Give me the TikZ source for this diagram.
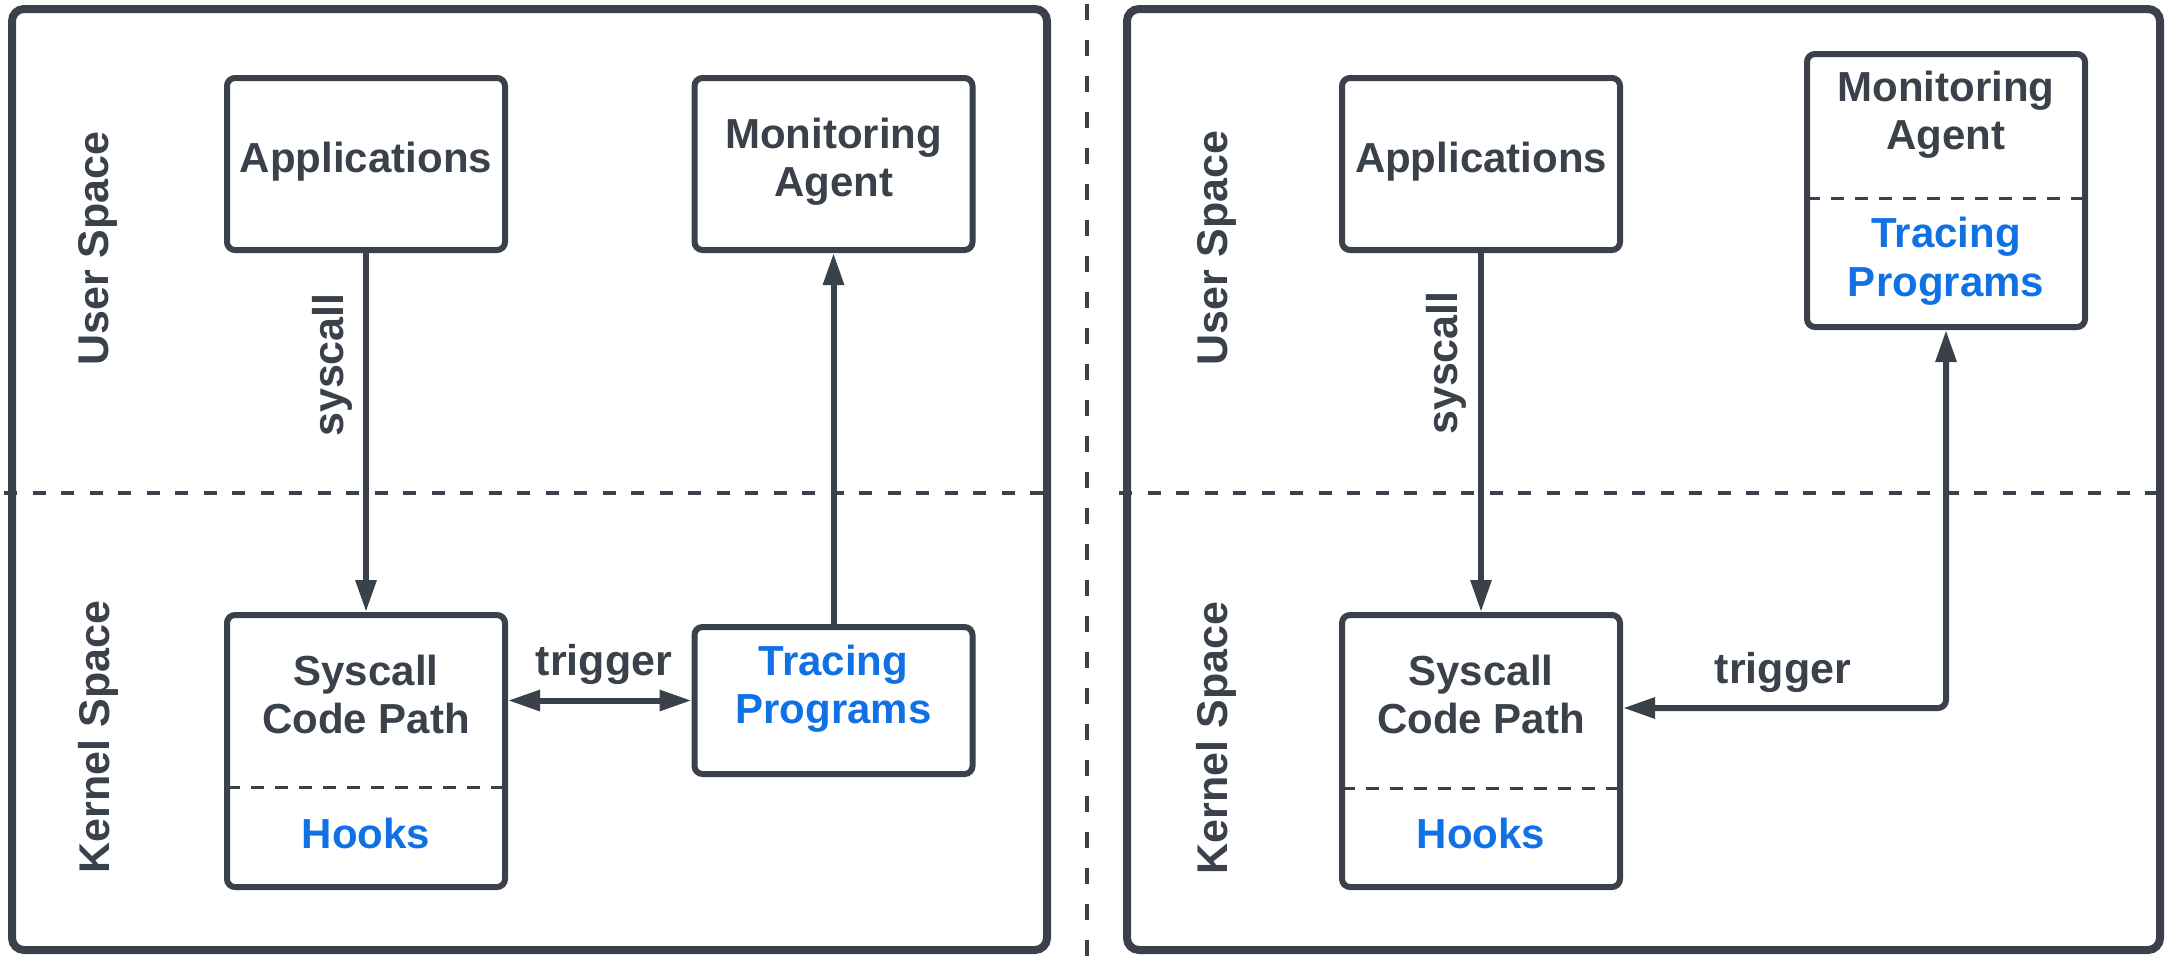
\documentclass[tikz,border=0pt]{standalone}
\usepackage{fontspec}
\setmainfont{Liberation Sans}
\usetikzlibrary{arrows.meta}
\definecolor{dk}{HTML}{3A414A}
\definecolor{bl}{HTML}{1071E5}
\tikzset{
  outerbox/.style={draw=dk, line width=8pt, rounded corners=12pt, inner sep=0pt},
  ibox/.style={draw=dk, line width=6pt, rounded corners=8pt, inner sep=0pt, minimum width=278pt},
  txt/.style={font=\fontsize{42}{48}\selectfont\bfseries, text=dk, inner sep=0pt, anchor=base},
  btxt/.style={txt, text=bl},
  lab/.style={font=\fontsize{43}{48}\selectfont\bfseries, text=dk, inner sep=0pt, anchor=base},
  rlab/.style={lab, rotate=90},
  sepline/.style={draw=dk, line width=3pt, dash pattern=on 13pt off 11pt},
  midline/.style={draw=dk, line width=3.5pt, dash pattern=on 13pt off 15.5pt},
  vline/.style={draw=dk, line width=4pt, dash pattern=on 16pt off 20pt},
  conn/.style={draw=dk, line width=6pt},
  tip/.style={-{Triangle[length=32pt,width=20pt]}},
  tips/.style={{Triangle[length=32pt,width=20pt]}-{Triangle[length=32pt,width=20pt]}}
}
\begin{document}
\begin{tikzpicture}[x=1pt,y=-1pt]
\useasboundingbox (0,0) rectangle (2165,956);
% outer panels
\node[outerbox, minimum width=1035pt, minimum height=941pt] (louter) at (529.5,479.5) {};
\node[outerbox, minimum width=1033pt, minimum height=941pt] (router) at (1643.5,479.5) {};
% middle vertical dashed line
\coordinate (vtop) at (1087,4);
\coordinate (vbot) at (1087,956);
\draw[vline] (vtop) -- (vbot);
% horizontal dashed lines
\draw[midline] ([xshift=-4pt]louter.west |- 0,493) -- ([xshift=4pt]louter.east |- 0,493);
\draw[midline] ([xshift=-4pt]router.west |- 0,493) -- ([xshift=4pt]router.east |- 0,493);

% ---------- left panel ----------
\node[rlab] (lus) at (108,248.5) {User Space};
\node[rlab] (lks) at (109,737) {Kernel Space};
\node[ibox, minimum height=172pt] (lapp) at (366,164) {};
\node[ibox, minimum height=172pt] (lmon) at (833.5,164) {};
\node[ibox, minimum height=272pt] (lsys) at (366,751) {};
\node[ibox, minimum height=147pt] (ltp) at (833.5,700.5) {};
\node[txt] (lappt) at (366,172) {Applications};
\node[txt] (lmon1) at (833.5,148) {Monitoring};
\node[txt] (lmon2) at (833.5,196) {Agent};
\node[txt] (lsys1) at (366,685) {Syscall};
\node[txt] (lsys2) at (366,733) {Code Path};
\node[btxt] (lhook) at (366,848) {Hooks};
\node[btxt] (ltp1) at (833.5,675) {Tracing};
\node[btxt] (ltp2) at (833.5,723) {Programs};
\draw[sepline] ([xshift=3pt]lsys.west |- 0,787) -- ([xshift=-3pt]lsys.east |- 0,787);
\draw[conn, tip] (lapp.south) -- (lsys.north);
\draw[conn, tip] (ltp.north) -- (lmon.south);
\draw[conn, tips] (lsys.east |- ltp.west) -- (ltp.west);
\node[rlab] (lsysl) at (343,365) {syscall};
\node[lab] (ltrig) at (604,675) {trigger};

% ---------- right panel ----------
\node[rlab] (rus) at (1227,248) {User Space};
\node[rlab] (rks) at (1227,738) {Kernel Space};
\node[ibox, minimum height=172pt] (rapp) at (1481,164) {};
\node[ibox, minimum height=273pt] (rmon) at (1946,190.5) {};
\node[ibox, minimum height=272pt] (rsys) at (1481,751) {};
\node[txt] (rappt) at (1481,172) {Applications};
\node[txt] (rmon1) at (1946,101) {Monitoring};
\node[txt] (rmon2) at (1946,149) {Agent};
\node[btxt] (rtp1) at (1946,247) {Tracing};
\node[btxt] (rtp2) at (1946,296) {Programs};
\node[txt] (rsys1) at (1481,685) {Syscall};
\node[txt] (rsys2) at (1481,733) {Code Path};
\node[btxt] (rhook) at (1481,848) {Hooks};
\draw[sepline] ([xshift=3pt]rmon.west |- 0,198) -- ([xshift=-3pt]rmon.east |- 0,198);
\draw[sepline] ([xshift=3pt]rsys.west |- 0,788) -- ([xshift=-3pt]rsys.east |- 0,788);
\draw[conn, tip] (rapp.south) -- (rsys.north);
\coordinate (rcorner) at (1946,708);
\draw[conn, tips, rounded corners=8pt] (rmon.south) -- (rcorner) -- (rsys.east |- rcorner);
\node[rlab] (rsysl) at (1457,363) {syscall};
\node[lab] (rtrig) at (1783,683) {trigger};
\end{tikzpicture}
\end{document}
